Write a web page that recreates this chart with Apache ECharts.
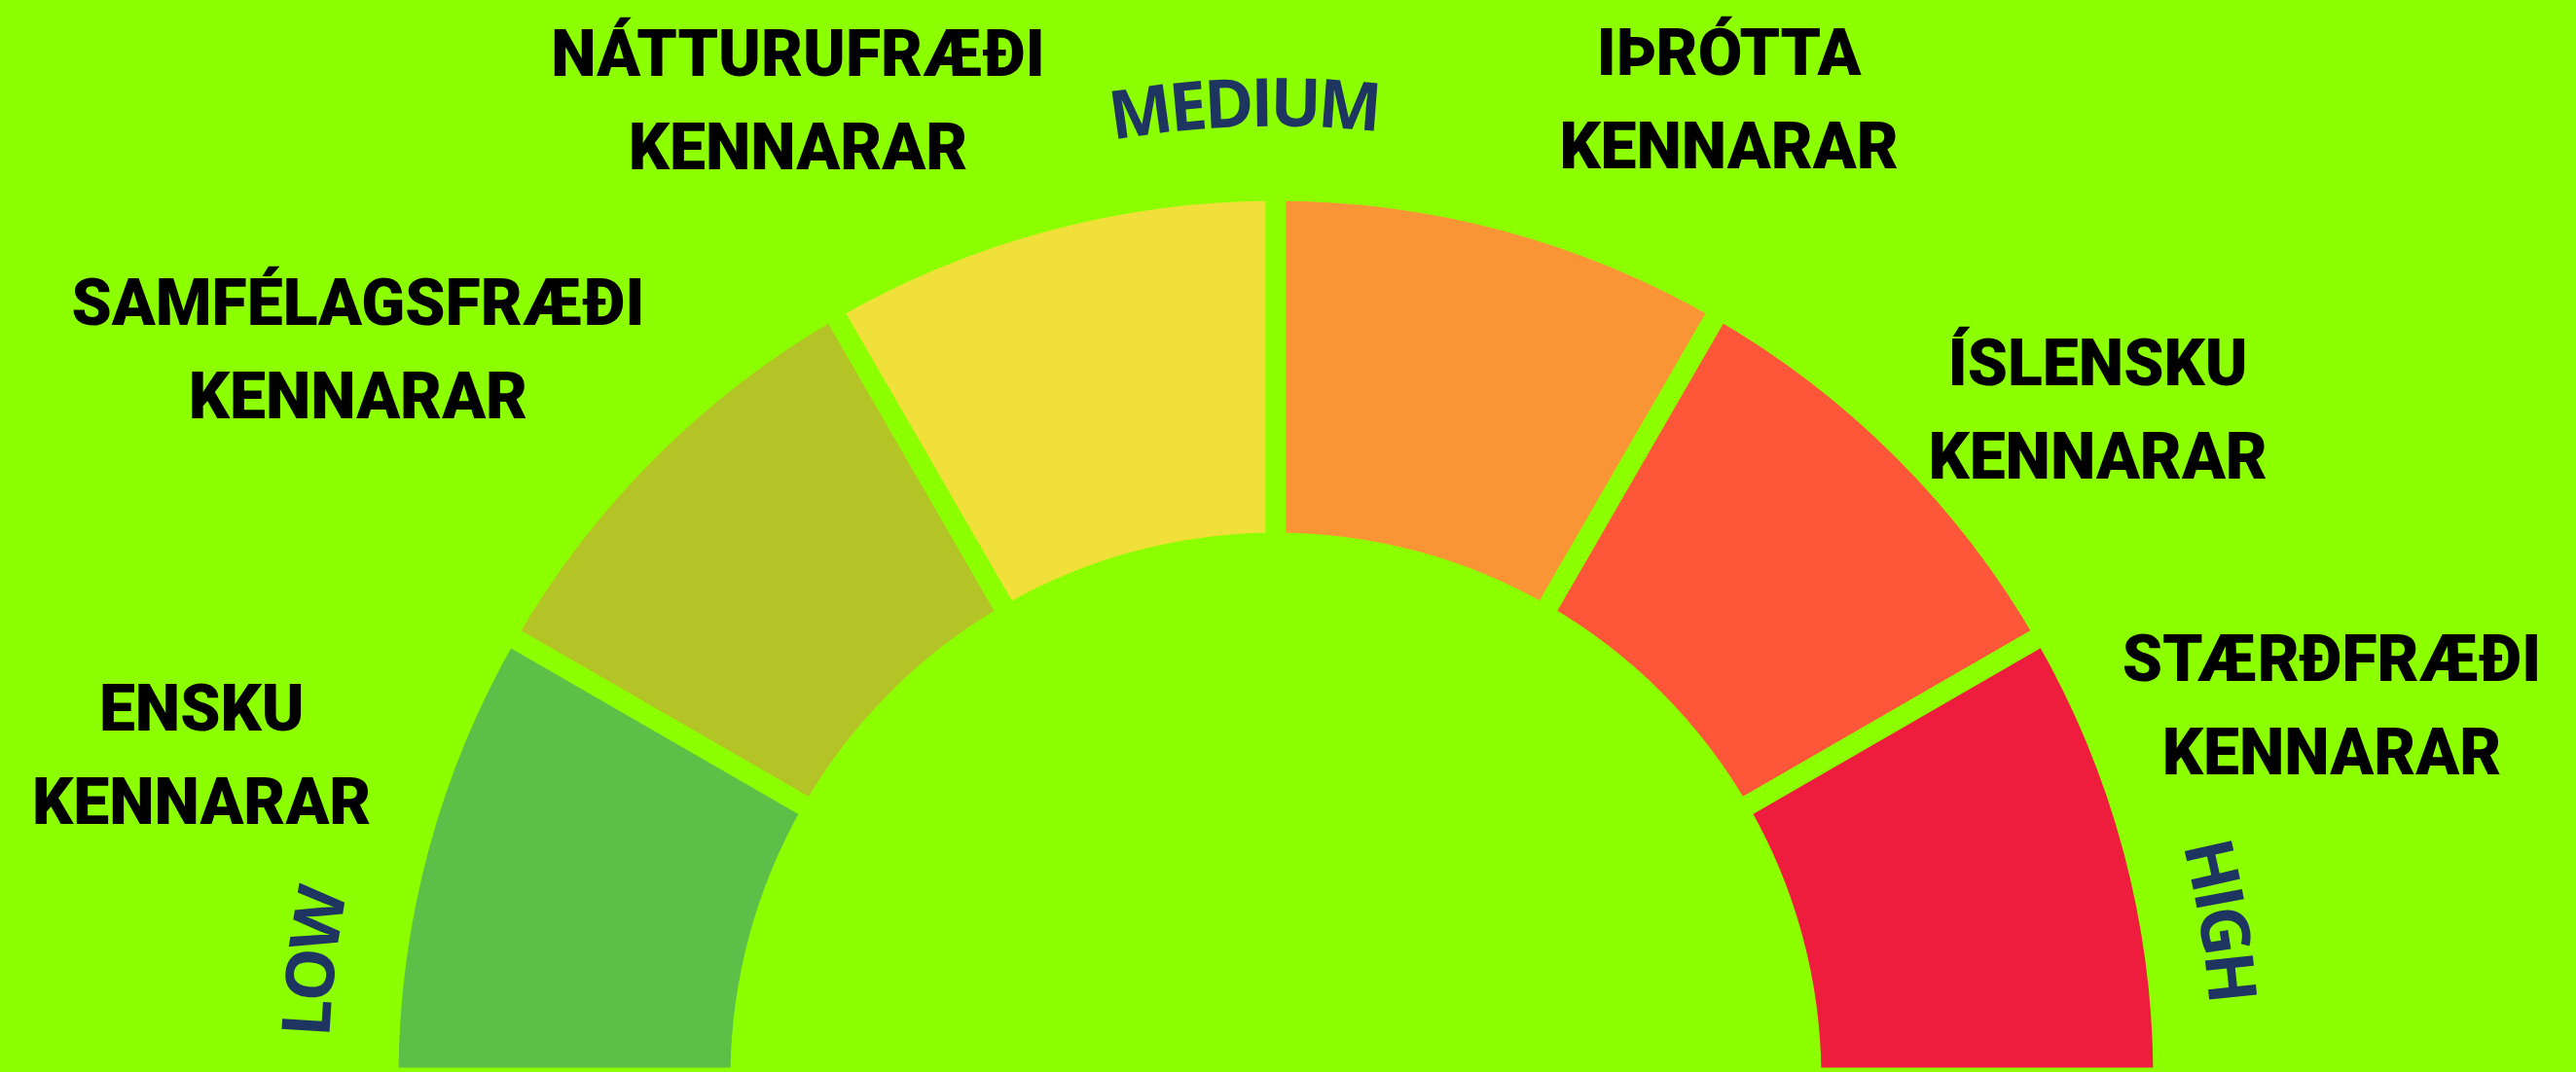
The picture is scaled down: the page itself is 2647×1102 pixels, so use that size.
<!DOCTYPE html>
<html>
<head>
<meta charset="utf-8">
<script src="https://cdn.jsdelivr.net/npm/echarts@6/dist/echarts.min.js"></script>
<style>
html,body{margin:0;padding:0;background:#8cff00;}
#chart{width:2647px;height:1102px;}
</style>
</head>
<body>
<div id="chart"></div>
<script>
// ---- data ----
const categories = [
  'ENSKU\nKENNARAR',
  'SAMFÉLAGSFRÆÐI\nKENNARAR',
  'NÁTTURUFRÆÐI\nKENNARAR',
  'IÞRÓTTA\nKENNARAR',
  'ÍSLENSKU\nKENNARAR',
  'STÆRÐFRÆÐI\nKENNARAR'
];
const values = [1, 1, 1, 1, 1, 1];
const colors = ['#5cbf47', '#b4c426', '#f2e03a', '#fa9535', '#fd5638', '#ee1c3d'];
const scaleLabels = ['LOW', 'MEDIUM', 'HIGH'];

// ---- layout ----
const BG = '#8cff00';
const CX = 1311, CY = 1108;
const R_IN = 550, R_OUT = 912;
const GAP = 21;
const LABEL_DY = 8;
// label anchor in polar form around the gauge centre: [angle deg, radius]
const labelPolar = [[163.2, 1153], [141.5, 1205], [116.0, 1120], [65.2, 1110], [39.2, 1090], [19.5, 1151]];
// scale words: [centre angle deg, radius of letter centres]
const scalePolar = [[173.1, 993], [91.8, 998], [9.4, 982]];

const chart = echarts.init(document.getElementById('chart'), null, {renderer: 'canvas'});

const measureCtx = document.createElement('canvas').getContext('2d');
const SCALE_FONT = 'bold 69px "Open Sans"';
const TRACK = -3;
function arcText(text, angDeg, radius) {
  measureCtx.font = SCALE_FONT;
  const chars = Array.from(text);
  const widths = chars.map(ch => measureCtx.measureText(ch).width + TRACK);
  const total = widths.reduce((a, b) => a + b, 0);
  const els = [];
  let s = -total / 2;
  chars.forEach((ch, i) => {
    const mid = s + widths[i] / 2;
    const phi = angDeg * Math.PI / 180 - mid / radius;
    els.push({
      type: 'text',
      x: CX + radius * Math.cos(phi),
      y: CY - radius * Math.sin(phi),
      rotation: phi - Math.PI / 2,
      silent: true,
      style: {
        text: ch,
        font: SCALE_FONT,
        fill: '#1f3561',
        align: 'center',
        verticalAlign: 'middle'
      }
    });
    s += widths[i];
  });
  return els;
}

let graphics = [];
scaleLabels.forEach((t, i) => { graphics = graphics.concat(arcText(t, scalePolar[i][0], scalePolar[i][1])); });

chart.setOption({
  backgroundColor: BG,
  animation: false,
  graphic: graphics,
  series: [{
    type: 'pie',
    center: [CX, CY],
    radius: [R_IN, R_OUT],
    startAngle: 180,
    endAngle: 0,
    clockwise: true,
    silent: true,
    avoidLabelOverlap: false,
    itemStyle: {borderColor: BG, borderWidth: GAP, borderJoin: 'miter'},
    label: {
      show: true,
      position: 'outside',
      formatter: p => p.name,
      color: '#000',
      fontFamily: 'Roboto',
      fontWeight: 900,
      fontSize: 66,
      lineHeight: 96,
      align: 'center'
    },
    labelLine: {show: false},
    labelLayout: function (params) {
      const lp = labelPolar[params.dataIndex];
      const a = lp[0] * Math.PI / 180;
      return {
        x: CX + lp[1] * Math.cos(a),
        y: CY - lp[1] * Math.sin(a) + LABEL_DY,
        align: 'center',
        verticalAlign: 'middle'
      };
    },
    data: categories.map((c, i) => ({name: c, value: values[i], itemStyle: {color: colors[i]}}))
  }]
});
</script>
</body>
</html>
